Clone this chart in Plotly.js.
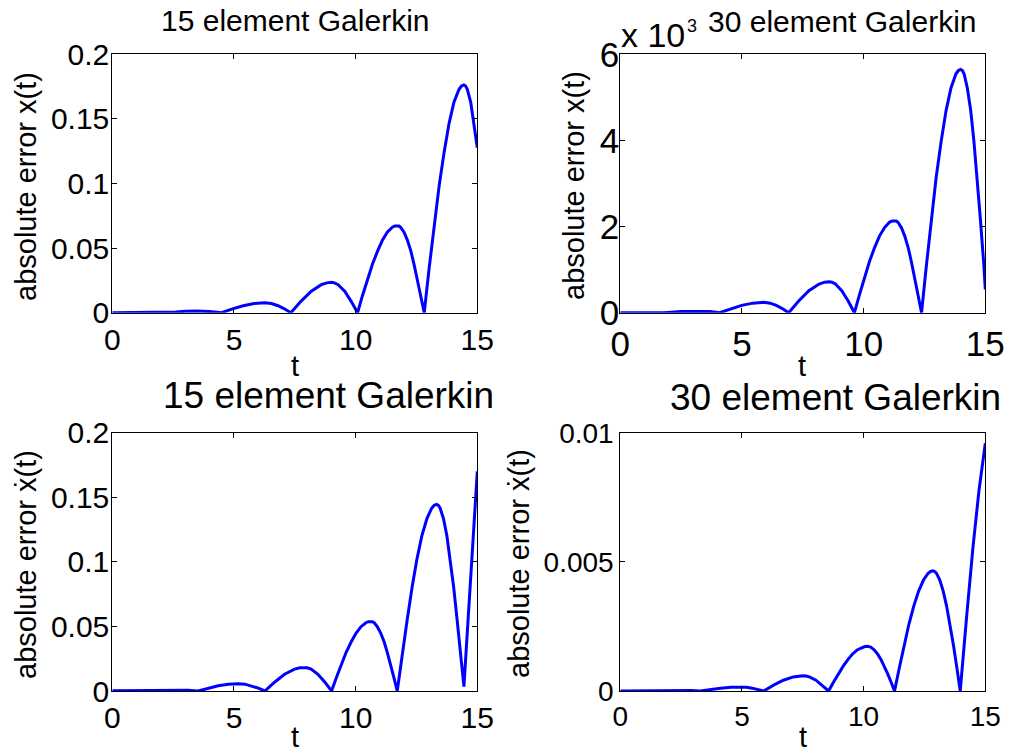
<!DOCTYPE html>
<html>
<head>
<meta charset="utf-8">
<script src="https://cdn.plot.ly/plotly-3.0.1.min.js"></script>
<style>
  html, body { margin: 0; padding: 0; background: #fff; }
  #chart { width: 1012px; height: 755px; }
</style>
</head>
<body>
<div id="chart"></div>
<script>
// Absolute error of x(t), 15-element Galerkin
const tX15 = [0, 1.0, 1.96, 2.6, 3.0, 3.45, 4.0, 4.49, 4.94, 5.38, 5.83, 6.27, 6.54, 6.81, 7.07, 7.34,
  7.76, 8.18, 8.59, 8.82, 9.01, 9.13, 9.28, 9.55, 9.81, 10.08,
  10.28, 10.49, 10.69, 10.90, 11.10, 11.30, 11.51, 11.61, 11.71, 11.78, 11.85, 11.99, 12.13, 12.27, 12.40, 12.54, 12.68, 12.82,
  13.02, 13.23, 13.43, 13.64, 13.84, 14.04, 14.25, 14.35, 14.45, 14.52, 14.59, 14.73, 14.86, 15.0];
const errX15 = [0, 0.0002, 0, 0.0006, 0.0011, 0.0013, 0.0009, 0, 0.0030, 0.0054, 0.0071, 0.0077, 0.0071, 0.0054, 0.0030, 0,
  0.0090, 0.0166, 0.0217, 0.0231, 0.0235, 0.0231, 0.0217, 0.0166, 0.0090, 0,
  0.01315, 0.02579, 0.03745, 0.04766, 0.05604, 0.06227, 0.06611, 0.06708, 0.0674, 0.06708, 0.06611, 0.06227, 0.05604, 0.04766, 0.03745, 0.02579, 0.01315, 0,
  0.0344, 0.06747, 0.09795, 0.12466, 0.14659, 0.16288, 0.17292, 0.17545, 0.1763, 0.17545, 0.17292, 0.16288, 0.14659, 0.1277];

// Absolute error of x(t), 30-element Galerkin
const tX30 = [0, 1.0, 1.8, 2.5, 3.19, 3.7, 4.08, 4.54, 4.99, 5.45, 5.90, 6.16, 6.41, 6.67, 6.92,
  7.34, 7.75, 8.17, 8.40, 8.58, 8.70, 8.84, 9.10, 9.36, 9.62,
  9.83, 10.03, 10.24, 10.45, 10.65, 10.86, 11.06, 11.17, 11.27, 11.34, 11.41, 11.55, 11.69, 11.83, 11.96, 12.10, 12.24, 12.38,
  12.58, 12.78, 12.98, 13.19, 13.39, 13.59, 13.79, 13.89, 13.99, 14.06, 14.13, 14.26, 14.40, 14.53, 14.67, 14.80, 14.94, 15.0];
const errX30 = [0, 0.000005, 0, 0.00003, 0.00004, 0.00003, 0, 0.000092, 0.00017, 0.000222, 0.00024, 0.000222, 0.00017, 0.000092, 0,
  0.000276, 0.000509, 0.000665, 0.000709, 0.00072, 0.000709, 0.000665, 0.000509, 0.000276, 0,
  0.000418, 0.000819, 0.001189, 0.001513, 0.001779, 0.001977, 0.002099, 0.00213, 0.00214, 0.00213, 0.002099, 0.001977, 0.001779, 0.001513, 0.001189, 0.000819, 0.000418, 0,
  0.001102, 0.002162, 0.003139, 0.003995, 0.004698, 0.00522, 0.005542, 0.005623, 0.00565, 0.005623, 0.005542, 0.00522, 0.004698, 0.003995, 0.003139, 0.002162, 0.001102, 0.00054];

// Absolute error of x'(t), 15-element Galerkin
const tV15 = [0, 0.5, 1.27, 1.9, 2.6, 3.1, 3.53, 3.94, 4.35, 4.77, 5.18, 5.45, 5.72, 6.00, 6.27,
  6.68, 7.08, 7.49, 7.71, 7.89, 8.01, 8.17, 8.45, 8.73, 9.01,
  9.21, 9.41, 9.61, 9.82, 10.02, 10.22, 10.42, 10.52, 10.62, 10.69, 10.76, 10.89, 11.03, 11.17, 11.30, 11.44, 11.57, 11.71,
  11.91, 12.12, 12.32, 12.52, 12.72, 12.93, 13.13, 13.23, 13.33, 13.40, 13.47, 13.61, 13.75, 13.89, 14.03, 14.17, 14.31, 14.45,
  14.63, 14.82, 15.0];
const errV15 = [0.0002, 0.0003, 0, 0.0005, 0.0008, 0.0005, 0, 0.0022, 0.0040, 0.0053, 0.0057, 0.0053, 0.0040, 0.0022, 0,
  0.0070, 0.01294, 0.01691, 0.01802, 0.0183, 0.01802, 0.01691, 0.01294, 0.0070, 0,
  0.01052, 0.02063, 0.02995, 0.03811, 0.04482, 0.0498, 0.05287, 0.05364, 0.0539, 0.05364, 0.05287, 0.0498, 0.04482, 0.03811, 0.02995, 0.02063, 0.01052, 0,
  0.02819, 0.0553, 0.08028, 0.10218, 0.12015, 0.1335, 0.14173, 0.14381, 0.1445, 0.14381, 0.14173, 0.1335, 0.12015, 0.10218, 0.08028, 0.0553, 0.02819, 0.0034,
  0.058, 0.117, 0.170];

// Absolute error of x'(t), 30-element Galerkin
const tV30 = [0, 1.0, 1.6, 2.0, 2.44, 2.9, 3.29, 3.71, 4.12, 4.54, 4.95, 5.19, 5.42, 5.66, 5.89,
  6.30, 6.70, 7.11, 7.33, 7.51, 7.63, 7.77, 8.04, 8.30, 8.56,
  8.76, 8.96, 9.16, 9.36, 9.55, 9.75, 9.95, 10.05, 10.15, 10.22, 10.29, 10.43, 10.57, 10.71, 10.85, 10.99, 11.13, 11.27,
  11.47, 11.67, 11.86, 12.06, 12.26, 12.46, 12.65, 12.75, 12.85, 12.92, 12.99, 13.13, 13.27, 13.41, 13.55, 13.69, 13.83, 13.97,
  14.23, 14.49, 14.74, 15.0];
const errV30 = [0, 0.00001, 0, 0.00002, 0.00003, 0.00002, 0, 0.000059, 0.00011, 0.000143, 0.000155, 0.000143, 0.00011, 0.000059, 0,
  0.000226, 0.000417, 0.000545, 0.000581, 0.00059, 0.000581, 0.000545, 0.000417, 0.000226, 0,
  0.000338, 0.000662, 0.000961, 0.001223, 0.001438, 0.001598, 0.001697, 0.001722, 0.00173, 0.001722, 0.001697, 0.001598, 0.001438, 0.001223, 0.000961, 0.000662, 0.000338, 0,
  0.000907, 0.00178, 0.002584, 0.003288, 0.003866, 0.004296, 0.004561, 0.004628, 0.00465, 0.004628, 0.004561, 0.004296, 0.003866, 0.003288, 0.002584, 0.00178, 0.000907, 0,
  0.00285, 0.00553, 0.00776, 0.00959];

// Tick values and labels
const tTicks = [0, 5, 10, 15];
const yTicks15 = [0, 0.05, 0.1, 0.15, 0.2];
const yTickText15 = ['0', '0.05', '0.1', '0.15', '0.2'];
const yTicksX30 = [0, 0.002, 0.004, 0.006];
const yTickTextX30 = ['0', '2', '4', '6'];
const yTicksV30 = [0, 0.005, 0.01];
const yTickTextV30 = ['0', '0.005', '0.01'];

const titles = ['15 element Galerkin', '30 element Galerkin', '15 element Galerkin', '30 element Galerkin'];
const yLabelX = 'absolute error x(t)';
const yLabelV = 'absolute error \u1E8B(t)';
const xLabel = 't';

const W = 1012, H = 755;
const FONT = 'Liberation Sans, Arial, Helvetica, sans-serif';
const px = x => x / W;
const py = y => 1 - y / H;

const lineStyle = { color: '#0000ff', width: 3 };
const traces = [
  { x: tX15, y: errX15, xaxis: 'x', yaxis: 'y' },
  { x: tX30, y: errX30, xaxis: 'x2', yaxis: 'y2' },
  { x: tV15, y: errV15, xaxis: 'x3', yaxis: 'y3' },
  { x: tV30, y: errV30, xaxis: 'x4', yaxis: 'y4' }
].map(tr => Object.assign(tr, { type: 'scatter', mode: 'lines', line: lineStyle, hoverinfo: 'skip' }));

function axis(domain, anchor, range, tickvals, ticktext, size, standoff) {
  const a = {
    domain: domain, anchor: anchor, range: range, tickvals: tickvals,
    showline: true, linecolor: '#000', linewidth: 1, mirror: 'ticks',
    ticks: 'inside', ticklen: 5, tickcolor: '#000', tickwidth: 1,
    showgrid: false, zeroline: false, fixedrange: true,
    ticklabelstandoff: standoff || 0,
    tickfont: { family: FONT, size: size, color: '#000' }
  };
  if (ticktext) a.ticktext = ticktext;
  return a;
}

const colL = [px(112.3), px(477.3)];
const colR = [px(620.3), px(985.3)];
const rowT = [py(312.7), py(54.3)];
const rowB = [py(691), py(432.7)];

function label(text, x, y, size, opts) {
  return Object.assign({
    text: text, x: px(x), y: py(y), xref: 'paper', yref: 'paper',
    showarrow: false, xanchor: 'center', yanchor: 'middle',
    font: { family: FONT, size: size, color: '#000' }
  }, opts || {});
}

const annotations = [
  label(titles[0], 295, 21, 30),
  label(titles[1], 842, 21.5, 30),
  label(titles[2], 328, 396, 37),
  label(titles[3], 835, 397, 37),
  label(yLabelX, 26, 187, 29, { textangle: -90 }),
  label(yLabelX, 574, 186, 29, { textangle: -90 }),
  label(yLabelV, 26, 565, 29, { textangle: -90 }),
  label(yLabelV, 519, 564, 29, { textangle: -90 }),
  label(xLabel, 295, 366, 29),
  label(xLabel, 802, 366, 29),
  label(xLabel, 295, 755, 29, { yanchor: 'bottom' }),
  label(xLabel, 803, 755, 29, { yanchor: 'bottom' }),
  label('x 10', 619, 35, 34, { xanchor: 'left' }),
  label('3', 685, 26, 18, { xanchor: 'left' })
];

const layout = {
  width: W, height: H,
  margin: { l: 0, r: 0, t: 0, b: 0 },
  paper_bgcolor: '#fff', plot_bgcolor: '#fff',
  showlegend: false,
  xaxis: axis(colL, 'y', [0, 15], tTicks, null, 30),
  yaxis: axis(rowT, 'x', [0, 0.2], yTicks15, yTickText15, 30, -4),
  xaxis2: axis(colR, 'y2', [0, 15], tTicks, null, 35),
  yaxis2: axis(rowT, 'x2', [0, 0.006], yTicksX30, yTickTextX30, 35, -7),
  xaxis3: axis(colL, 'y3', [0, 15], tTicks, null, 30),
  yaxis3: axis(rowB, 'x3', [0, 0.2], yTicks15, yTickText15, 30, -4),
  xaxis4: axis(colR, 'y4', [0, 15], tTicks, null, 28),
  yaxis4: axis(rowB, 'x4', [0, 0.01], yTicksV30, yTickTextV30, 28),
  annotations: annotations
};

Plotly.newPlot('chart', traces, layout, { displayModeBar: false, staticPlot: true });
</script>
</body>
</html>
